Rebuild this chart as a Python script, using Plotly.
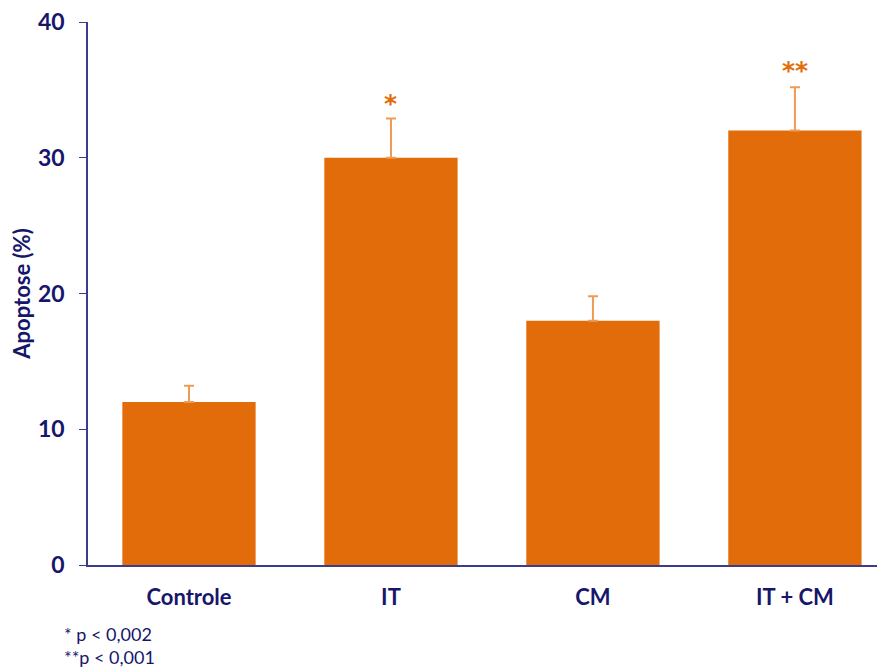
import plotly.graph_objects as go

categories = ["Controle", "IT", "CM", "IT + CM"]
values = [12, 30, 18, 32]
errors = [1.2, 2.9, 1.8, 3.2]
marks = ["", "*", "", "**"]
mark_y = [None, 34.0, None, 36.4]
y_ticks = [0, 10, 20, 30, 40]

navy = "#16166B"
axis_col = "#3B3B8F"
bar_col = "#E36C0A"
err_col = "#EE9B55"
font = "Lato"

fig = go.Figure(go.Bar(
    x=list(range(len(categories))), y=values,
    marker=dict(color=bar_col, line=dict(width=0)),
    error_y=dict(type="data", array=errors, arrayminus=[0]*len(errors), symmetric=False,
                 color=err_col, thickness=2, width=5),
))

for i, (m, my) in enumerate(zip(marks, mark_y)):
    if m:
        fig.add_annotation(x=i, y=my, text=f"<b>{m}</b>", showarrow=False,
                           font=dict(family="DejaVu Sans", size=25, color=bar_col), yanchor="middle")

fig.add_annotation(xref="paper", yref="paper", x=-0.033, y=-0.104, xanchor="left", yanchor="top",
                   text="* p &lt; 0,002<br>**p &lt; 0,001", align="left", showarrow=False,
                   font=dict(family=font, size=18, color=navy))

fig.update_layout(
    width=885, height=667,
    margin=dict(l=80, r=8, t=14, b=110, autoexpand=False),
    paper_bgcolor="white", plot_bgcolor="white",
    bargap=0.34, showlegend=False,
    xaxis=dict(range=[-0.5, 3.446], tickmode="array", tickvals=list(range(len(categories))),
               ticktext=[f"<b>{c}</b>" for c in categories], showline=True, linecolor=axis_col,
               linewidth=1.5, ticks="", showgrid=False, zeroline=False, ticklabelstandoff=12,
               automargin=False, tickfont=dict(family=font, size=22, color=navy)),
    yaxis=dict(range=[0, 40], tickvals=y_ticks, ticktext=[f"<b>{t}</b>" for t in y_ticks],
               showline=True, linecolor=axis_col, linewidth=1.5, ticks="outside", ticklen=7,
               tickcolor=axis_col, showgrid=False, zeroline=False, ticklabelstandoff=10,
               automargin=False, ticklabeloverflow="allow",
               tickfont=dict(family=font, size=23, color=navy),
               title=dict(text="<b>Apoptose (%)</b>", font=dict(family=font, size=22, color=navy), standoff=14)),
)

fig.write_html("out.html")
